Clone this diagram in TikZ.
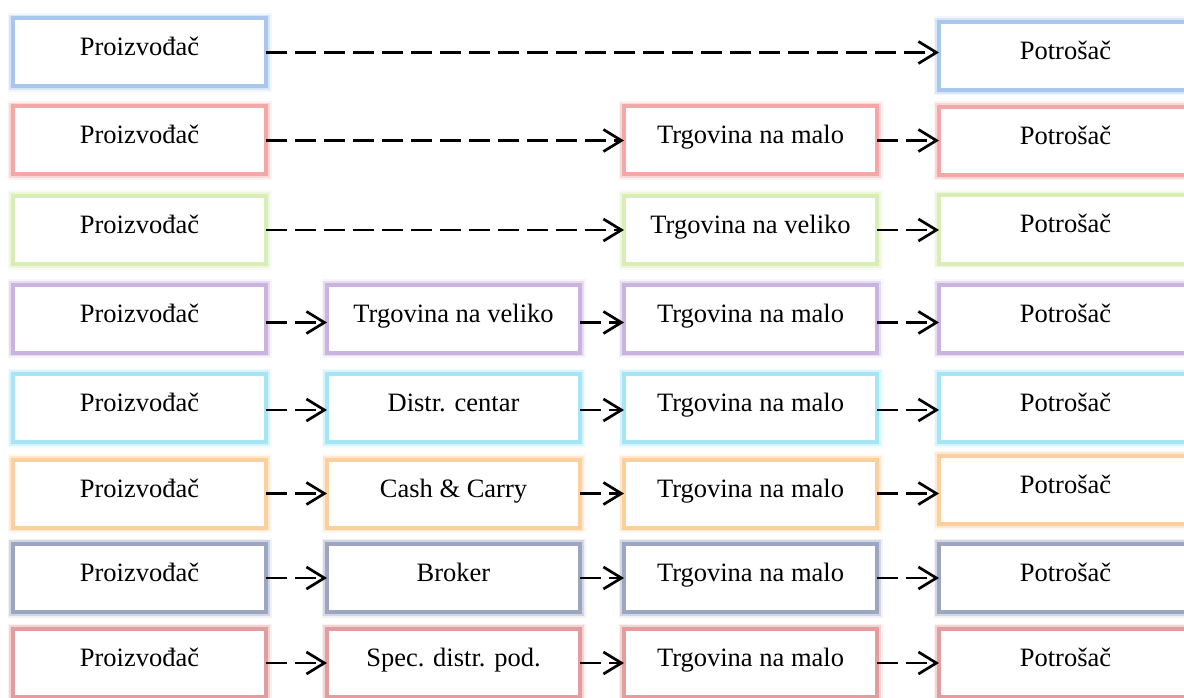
\documentclass[tikz,border=0pt]{standalone}
\usepackage{fontspec}
\setmainfont{Liberation Serif}
\usetikzlibrary{arrows.meta}
\definecolor{cBlue}{HTML}{A7C7EE}
\definecolor{cPink}{HTML}{F4A7A6}
\definecolor{cGreen}{HTML}{D9EEB6}
\definecolor{cLav}{HTML}{C9B3DF}
\definecolor{cCyan}{HTML}{A5E5F5}
\definecolor{cPeach}{HTML}{FCD09C}
\definecolor{cSlate}{HTML}{9DA6C0}
\definecolor{cRed}{HTML}{E29E9E}
\tikzset{
  box/.style={draw=#1, line width=4pt, fill=white, minimum width=253pt,
    minimum height=68pt, inner sep=0pt, outer sep=0pt,
    text height=14pt, text depth=7pt, font=\fontsize{26.5}{30}\selectfont,
    preaction={draw=#1, fill=none, line width=11pt, draw opacity=0.15},
    preaction={draw=#1, fill=none, line width=7.5pt, draw opacity=0.35}},
  flow/.style={draw=black, line width=2.7pt, dash pattern=on 21pt off 8pt,
    -{Straight Barb[length=18pt,width=22pt]}}
}
\begin{document}
\begin{tikzpicture}[x=1pt,y=-1pt]
\useasboundingbox (0,0) rectangle (1184,698);
% row 1
\node[box=cBlue] (p1) at (139.5,52.5) {Proizvođač};
\node[box=cBlue] (k1) at (1065.5,56) {Potrošač};
% row 2
\node[box=cPink] (p2) at (139.5,140.5) {Proizvođač};
\node[box=cPink] (m2) at (750.5,140.5) {Trgovina na malo};
\node[box=cPink] (k2) at (1065.5,141) {Potrošač};
% row 3
\node[box=cGreen] (p3) at (139.5,230) {Proizvođač};
\node[box=cGreen] (v3) at (750.5,230) {Trgovina na veliko};
\node[box=cGreen] (k3) at (1065.5,229.5) {Potrošač};
% row 4
\node[box=cLav] (p4) at (139.5,318.5) {Proizvođač};
\node[box=cLav] (w4) at (453.5,318.5) {Trgovina na veliko};
\node[box=cLav] (m4) at (750.5,318.5) {Trgovina na malo};
\node[box=cLav] (k4) at (1065.5,318.5) {Potrošač};
% row 5
\node[box=cCyan] (p5) at (139.5,408) {Proizvođač};
\node[box=cCyan] (d5) at (453.5,408) {Distr. centar};
\node[box=cCyan] (m5) at (750.5,408) {Trgovina na malo};
\node[box=cCyan] (k5) at (1065.5,408) {Potrošač};
% row 6
\node[box=cPeach] (p6) at (139.5,493.5) {Proizvođač};
\node[box=cPeach] (c6) at (453.5,493.5) {Cash \& Carry};
\node[box=cPeach] (m6) at (750.5,493.5) {Trgovina na malo};
\node[box=cPeach] (k6) at (1065.5,490) {Potrošač};
% row 7
\node[box=cSlate] (p7) at (139.5,578) {Proizvođač};
\node[box=cSlate] (b7) at (453.5,578) {Broker};
\node[box=cSlate] (m7) at (750.5,578) {Trgovina na malo};
\node[box=cSlate] (k7) at (1065.5,578) {Potrošač};
% row 8
\node[box=cRed] (p8) at (139.5,663) {Proizvođač};
\node[box=cRed] (s8) at (453.5,663) {Spec. distr. pod.};
\node[box=cRed] (m8) at (750.5,663) {Trgovina na malo};
\node[box=cRed] (k8) at (1065.5,663) {Potrošač};
% connectors
\draw[flow] (p1.east) -- (p1.east -| k1.west);
\draw[flow] (p2.east) -- (m2.west);
\draw[flow] (m2.east) -- (m2.east -| k2.west);
\draw[flow] (p3.east) -- (v3.west);
\draw[flow] (v3.east) -- (v3.east -| k3.west);
\draw[flow] ([yshift=-4pt]p4.east) -- ([yshift=-4pt]w4.west);
\draw[flow] ([yshift=-4pt]w4.east) -- ([yshift=-4pt]m4.west);
\draw[flow] ([yshift=-4pt]m4.east) -- ([yshift=-4pt]k4.west);
\draw[flow] ([yshift=-2pt]p5.east) -- ([yshift=-2pt]d5.west);
\draw[flow] ([yshift=-2pt]d5.east) -- ([yshift=-2pt]m5.west);
\draw[flow] ([yshift=-2pt]m5.east) -- ([yshift=-2pt]k5.west);
\draw[flow] (p6.east) -- (c6.west);
\draw[flow] (c6.east) -- (m6.west);
\draw[flow] (m6.east) -- (m6.east -| k6.west);
\draw[flow] (p7.east) -- (b7.west);
\draw[flow] (b7.east) -- (m7.west);
\draw[flow] (m7.east) -- (k7.west);
\draw[flow] (p8.east) -- (s8.west);
\draw[flow] (s8.east) -- (m8.west);
\draw[flow] (m8.east) -- (k8.west);
\end{tikzpicture}
\end{document}
